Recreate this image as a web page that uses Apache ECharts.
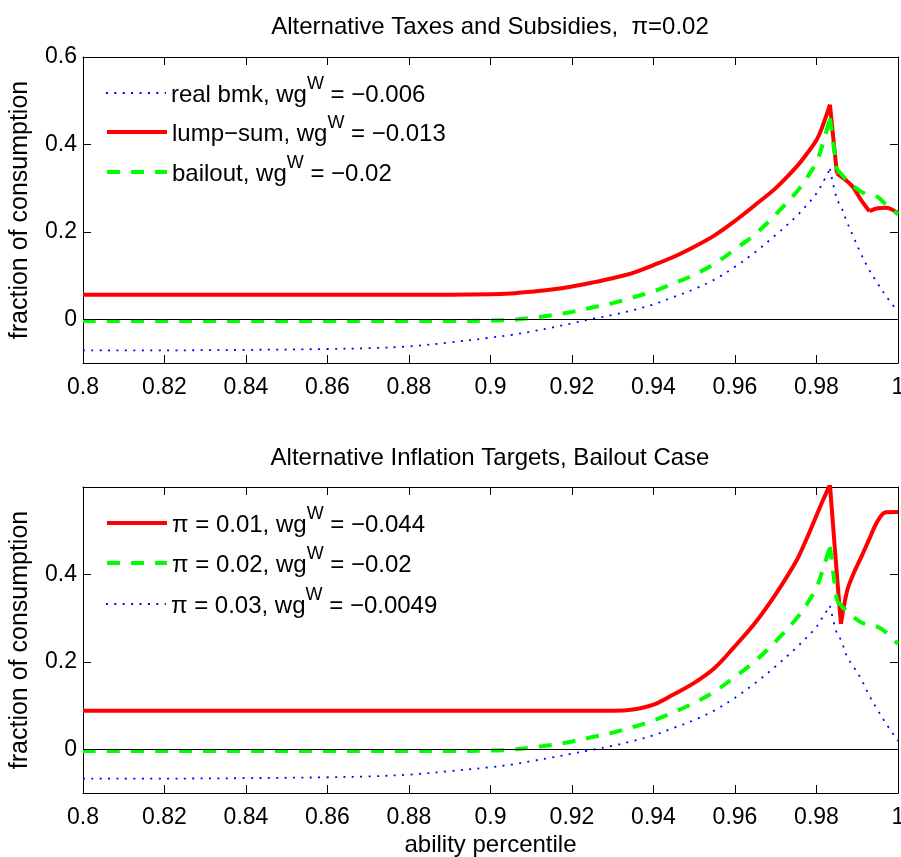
<!DOCTYPE html>
<html>
<head>
<meta charset="utf-8">
<title>Alternative Taxes and Subsidies</title>
<script src="https://cdn.jsdelivr.net/npm/echarts@6/dist/echarts.min.js"></script>
<style>
  html, body { margin: 0; padding: 0; background: #fff; }
  #chart { width: 901px; height: 857px; }
</style>
</head>
<body>
<div id="chart"></div>
<script>
// ability percentile, shared by every curve
const ability = [0.8, 0.82, 0.84, 0.86, 0.87, 0.88, 0.89, 0.9, 0.905, 0.91, 0.915, 0.92,
  0.925, 0.93, 0.935, 0.94, 0.945, 0.95, 0.955, 0.96, 0.965, 0.97, 0.975, 0.9775,
  0.98, 0.9815, 0.9833, 0.985, 0.986, 0.9875, 0.989, 0.991, 0.993, 0.995, 0.997, 1.0];

// top panel: alternative taxes and subsidies, pi = 0.02
const realBmk = [-0.071, -0.071, -0.070, -0.068, -0.066, -0.062, -0.053, -0.042, -0.036, -0.028, -0.019, -0.009,
  0.001, 0.010, 0.021, 0.034, 0.051, 0.069, 0.091, 0.120, 0.154, 0.193, 0.235, 0.260,
  0.288, 0.312, 0.344, 0.275, 0.258, 0.222, 0.190, 0.148, 0.112, 0.082, 0.054, 0.017];
const lumpSum = [0.056, 0.056, 0.056, 0.056, 0.056, 0.056, 0.056, 0.057, 0.059, 0.063, 0.068, 0.075,
  0.084, 0.094, 0.106, 0.124, 0.143, 0.166, 0.192, 0.225, 0.262, 0.300, 0.348, 0.377,
  0.410, 0.442, 0.491, 0.334, 0.327, 0.316, 0.302, 0.272, 0.247, 0.254, 0.255, 0.243];
const bailout = [-0.004, -0.004, -0.004, -0.004, -0.004, -0.004, -0.004, -0.003, -0.0015, 0.003, 0.009, 0.017,
  0.027, 0.037, 0.050, 0.064, 0.082, 0.102, 0.127, 0.160, 0.195, 0.240, 0.290, 0.322,
  0.360, 0.400, 0.460, 0.342, 0.333, 0.318, 0.305, 0.292, 0.284, 0.280, 0.263, 0.240];

// bottom panel: alternative inflation targets, bailout case
const pi01 = [0.088, 0.088, 0.088, 0.088, 0.088, 0.088, 0.088, 0.088, 0.088, 0.088, 0.088, 0.088,
  0.088, 0.088, 0.091, 0.102, 0.126, 0.152, 0.186, 0.236, 0.290, 0.355, 0.430, 0.480,
  0.535, 0.568, 0.605, 0.400, 0.287, 0.362, 0.400, 0.440, 0.482, 0.522, 0.542, 0.543];
const pi02 = [-0.004, -0.004, -0.004, -0.004, -0.004, -0.004, -0.004, -0.003, -0.001, 0.004, 0.010, 0.018,
  0.028, 0.038, 0.051, 0.066, 0.085, 0.106, 0.132, 0.166, 0.202, 0.247, 0.298, 0.330,
  0.370, 0.410, 0.463, 0.340, 0.329, 0.315, 0.303, 0.290, 0.284, 0.280, 0.268, 0.241];
const pi03 = [-0.067, -0.067, -0.066, -0.064, -0.062, -0.058, -0.050, -0.041, -0.035, -0.027, -0.019, -0.010,
  -0.001, 0.008, 0.019, 0.032, 0.049, 0.067, 0.089, 0.118, 0.152, 0.190, 0.232, 0.255,
  0.280, 0.302, 0.328, 0.265, 0.250, 0.212, 0.190, 0.160, 0.122, 0.090, 0.060, 0.019];

// kinks where a curve is not smooth (x values)
const kinksRealBmk = [0.9833];
const kinksLumpSum = [0.9833, 0.985, 0.993];
const kinksBailout = [0.9833, 0.985];
const kinksPi01 = [0.9833, 0.986];
const kinksPi02 = [0.9833, 0.985];
const kinksPi03 = [0.9833];

const yTicksTop = [0, 0.2, 0.4, 0.6];
const yTicksBottom = [0, 0.2, 0.4];

const labels = {
  'real bmk': '{t|real bmk, wg}{s|W}{t| = \u22120.006}',
  'lump-sum': '{t|lump\u2212sum, wg}{s|W}{t| = \u22120.013}',
  'bailout': '{t|bailout, wg}{s|W}{t| = \u22120.02}',
  'pi01': '{t|\u03c0 = 0.01, wg}{s|W}{t| = \u22120.044}',
  'pi02': '{t|\u03c0 = 0.02, wg}{s|W}{t| = \u22120.02}',
  'pi03': '{t|\u03c0 = 0.03, wg}{s|W}{t| = \u22120.0049}'
};

const font = 'Liberation Sans, Arial, Helvetica, sans-serif';
const black = { color: '#000', width: 1 };

const RED = { color: '#ff0000', width: 4, type: 'solid' };
const GREEN = { color: '#00ff00', width: 4, type: [13, 11] };
const BLUE = { color: '#0000ff', width: 1.8, type: [2, 6.4] };

function xAxes(gridIndex, withName) {
  const bottom = {
    type: 'value', gridIndex: gridIndex, position: 'bottom',
    min: 0.8, max: 1, interval: 0.02,
    axisLine: { onZero: false, lineStyle: black },
    axisTick: { inside: true, length: 8, lineStyle: black },
    axisLabel: { color: '#000', fontSize: 23, fontFamily: font, margin: 13 },
    splitLine: { show: false }
  };
  if (withName) {
    bottom.name = 'ability percentile';
    bottom.nameLocation = 'middle';
    bottom.nameGap = 40;
    bottom.nameTextStyle = { color: '#000', fontSize: 24, fontFamily: font };
  }
  const top = {
    type: 'value', gridIndex: gridIndex, position: 'top',
    min: 0.8, max: 1, interval: 0.02,
    axisLine: { onZero: false, lineStyle: black },
    axisTick: { inside: true, length: 8, lineStyle: black },
    axisLabel: { show: false },
    splitLine: { show: false }
  };
  return [bottom, top];
}

function yAxes(gridIndex, ticks) {
  const left = {
    type: 'value', gridIndex: gridIndex, position: 'left',
    min: -0.1, max: 0.6,
    name: 'fraction of consumption', nameLocation: 'middle', nameGap: 50,
    nameTextStyle: { color: '#000', fontSize: 25, fontFamily: font },
    axisLine: { show: true, onZero: false, lineStyle: black },
    axisTick: { show: true, inside: true, length: 8, lineStyle: black, customValues: ticks },
    axisLabel: { color: '#000', fontSize: 23, fontFamily: font, margin: 6, customValues: ticks },
    splitLine: { show: false }
  };
  const right = {
    type: 'value', gridIndex: gridIndex, position: 'right',
    min: -0.1, max: 0.6,
    axisLine: { show: true, onZero: false, lineStyle: black },
    axisTick: { show: true, inside: true, length: 8, lineStyle: black, customValues: ticks },
    axisLabel: { show: false, customValues: ticks },
    splitLine: { show: false }
  };
  return [left, right];
}

function legendAt(name, top) {
  return {
    data: [name], left: 105, top: top, padding: 0,
    itemWidth: 60, itemHeight: 14, selectedMode: false,
    itemStyle: { opacity: 0 },
    lineStyle: { width: 'inherit', type: 'inherit' },
    formatter: (n) => labels[n],
    textStyle: {
      color: '#000', fontFamily: font,
      rich: {
        t: { fontSize: 24, lineHeight: 36, padding: [5, 0, 0, 0], fontFamily: font, color: '#000' },
        s: { fontSize: 18, lineHeight: 20, verticalAlign: 'top', fontFamily: font, color: '#000' }
      }
    }
  };
}

// one smooth piece per stretch between kinks, so peaks stay sharp
function curve(name, ys, kinks, style, xi, yi) {
  const cuts = [0].concat(kinks.map((k) => ability.indexOf(k)), [ability.length - 1]);
  const pieces = [];
  for (let k = 0; k < cuts.length - 1; k++) {
    const pts = [];
    for (let i = cuts[k]; i <= cuts[k + 1]; i++) {
      pts.push([ability[i], ys[i]]);
    }
    pieces.push({
      name: name, type: 'line', xAxisIndex: xi, yAxisIndex: yi,
      data: pts, symbol: 'none', smooth: 0.35, color: style.color,
      lineStyle: style, silent: true
    });
  }
  return pieces;
}

const zeroLine = {
  silent: true, symbol: 'none', label: { show: false },
  lineStyle: { color: '#000', width: 1, type: 'solid' },
  data: [{ yAxis: 0 }]
};

const topSeries = [].concat(
  curve('real bmk', realBmk, kinksRealBmk, BLUE, 0, 0),
  curve('lump-sum', lumpSum, kinksLumpSum, RED, 0, 0),
  curve('bailout', bailout, kinksBailout, GREEN, 0, 0)
);
const bottomSeries = [].concat(
  curve('pi01', pi01, kinksPi01, RED, 2, 2),
  curve('pi02', pi02, kinksPi02, GREEN, 2, 2),
  curve('pi03', pi03, kinksPi03, BLUE, 2, 2)
);
topSeries[0].markLine = zeroLine;
bottomSeries[0].markLine = zeroLine;

const chart = echarts.init(document.getElementById('chart'));

chart.setOption({
  animation: false,
  backgroundColor: '#fff',
  title: [
    { text: 'Alternative Taxes and Subsidies,  \u03c0=0.02', left: 490, top: 15, padding: 0, textAlign: 'center',
      textStyle: { fontSize: 24, fontWeight: 'normal', color: '#000', fontFamily: font } },
    { text: 'Alternative Inflation Targets, Bailout Case', left: 490, top: 446, padding: 0, textAlign: 'center',
      textStyle: { fontSize: 24, fontWeight: 'normal', color: '#000', fontFamily: font } }
  ],
  legend: [
    legendAt('real bmk', 75),
    legendAt('lump-sum', 114),
    legendAt('bailout', 154),
    legendAt('pi01', 505),
    legendAt('pi02', 545),
    legendAt('pi03', 586)
  ],
  grid: [
    { left: 83, top: 57, width: 815, height: 306, outerBoundsMode: 'none' },
    { left: 83, top: 487, width: 815, height: 306, outerBoundsMode: 'none' }
  ],
  xAxis: xAxes(0, false).concat(xAxes(1, true)),
  yAxis: yAxes(0, yTicksTop).concat(yAxes(1, yTicksBottom)),
  series: topSeries.concat(bottomSeries)
});
</script>
</body>
</html>
